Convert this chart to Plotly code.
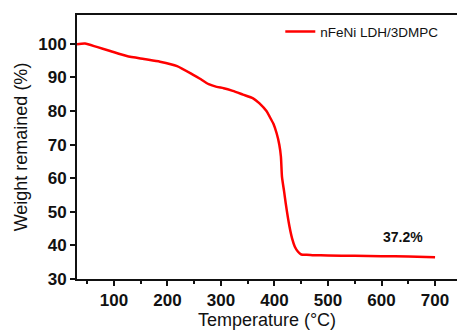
import plotly.graph_objects as go

temperature = [31, 46, 68, 93, 124, 156, 186, 218, 249, 260, 277, 292, 305, 322, 341, 360, 372, 385, 391,
               398, 404, 409, 412, 414, 418, 421, 428, 433, 438, 444, 450, 460, 471, 500, 550, 600, 650, 700]
weight = [99.9, 100.1, 99.1, 97.9, 96.4, 95.5, 94.7, 93.4, 90.7, 89.7, 88.0, 87.2, 86.8, 86.0, 84.9, 83.8, 82.3,
          80.0, 78.3, 76.2, 73.4, 70.0, 66.4, 60.4, 56.0, 52.5, 45.6, 42.0, 39.6, 38.1, 37.3, 37.2, 37.1,
          37.0, 36.9, 36.8, 36.7, 36.5]
series_name = "nFeNi LDH/3DMPC"
annotation_text = "37.2%"
annotation_pos = (641, 42.5)
x_ticks = [100, 200, 300, 400, 500, 600, 700]
y_ticks = [30, 40, 50, 60, 70, 80, 90, 100]

fig = go.Figure()
fig.add_trace(go.Scatter(x=temperature, y=weight, mode="lines", name=series_name,
                         line=dict(color="#ff0000", width=2.5, shape="spline", smoothing=0.6)))

fig.add_annotation(x=annotation_pos[0], y=annotation_pos[1], text="<b>%s</b>" % annotation_text,
                   showarrow=False, font=dict(family="Arial", size=14, color="#111"))

fig.update_layout(
    width=457, height=334,
    margin=dict(l=77, r=0, t=15, b=55, autoexpand=False),
    paper_bgcolor="white", plot_bgcolor="white",
    showlegend=True,
    legend=dict(x=0.535, y=0.995, xanchor="left", yanchor="top", bgcolor="rgba(0,0,0,0)",
                font=dict(family="Arial", size=13.5, color="#111"), itemwidth=30),
    xaxis=dict(range=[31, 741], tickvals=x_ticks, ticks="outside", ticklen=5, tickwidth=1.5,
               tickcolor="#111", showline=True, linecolor="#111", linewidth=2, mirror=True,
               showgrid=False, zeroline=False, automargin=False,
               tickfont=dict(family="Arial", size=17, color="#111", weight="bold"),
               minor=dict(tickvals=[50, 150, 250, 350, 450, 550, 650], ticks="outside", ticklen=3,
                          tickcolor="#111", tickwidth=1.5),
               title=dict(text="Temperature (°C)", font=dict(family="Arial", size=18, color="#111"), standoff=2)),
    yaxis=dict(range=[30, 108.6], tickvals=y_ticks, ticks="outside", ticklen=5, tickwidth=1.5,
               tickcolor="#111", showline=True, linecolor="#111", linewidth=2, mirror=False,
               showgrid=False, zeroline=False, automargin=False,
               tickfont=dict(family="Arial", size=17, color="#111", weight="bold"),
               title=dict(text="Weight remained (%)", font=dict(family="Arial", size=18, color="#111"), standoff=6)),
)
fig.write_html("out.html", config={"displayModeBar": False},
               post_script="document.body.style.margin='0';document.body.style.overflow='hidden';")
